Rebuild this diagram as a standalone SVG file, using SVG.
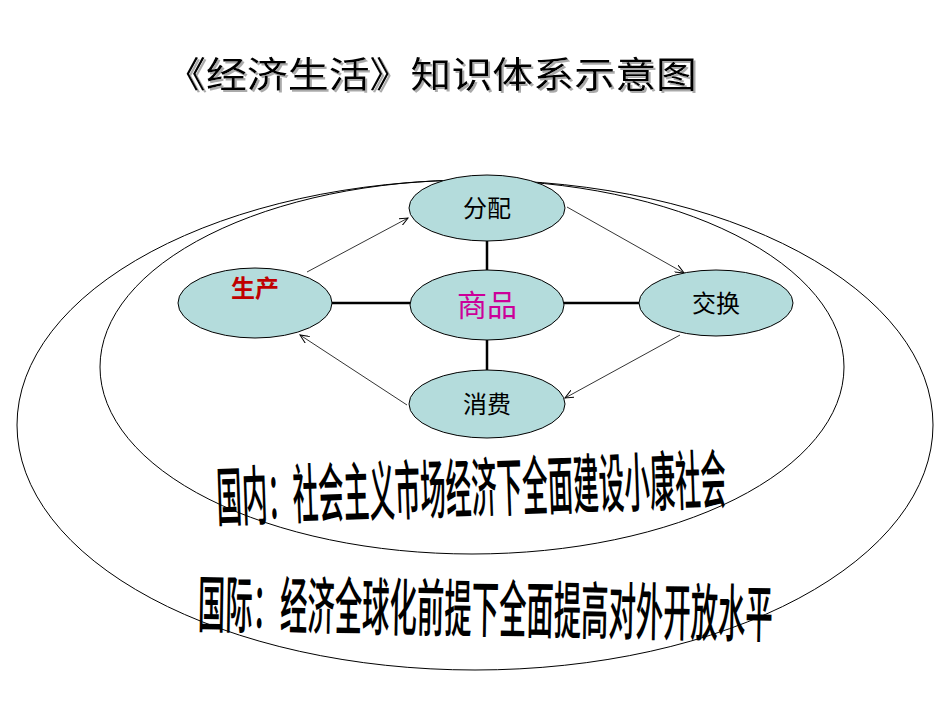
<svg xmlns="http://www.w3.org/2000/svg" width="950" height="713" viewBox="0 0 950 713">
<defs>
<style>
.n{fill:#b4dcdc;stroke:#000;stroke-width:1}
.t{font-family:"Liberation Sans","Noto Sans CJK SC",sans-serif;text-anchor:middle}
.w{font-family:"Noto Sans CJK SC",sans-serif;font-weight:500;fill:#000}
</style>
<filter id="sh" x="-5%" y="-20%" width="110%" height="140%"><feDropShadow dx="2" dy="2" stdDeviation="0" flood-color="#aaa"/></filter>
<marker id="a" markerWidth="10" markerHeight="8" refX="9" refY="4" orient="auto" markerUnits="userSpaceOnUse"><path d="M0,0 L9,4 L0,8" fill="none" stroke="#000"/></marker>
</defs>
<rect width="950" height="713" fill="#fff"/>
<text x="431" y="88" class="t" font-size="36" textLength="532" lengthAdjust="spacingAndGlyphs" filter="url(#sh)">《经济生活》知识体系示意图</text>
<ellipse cx="475" cy="425" rx="458" ry="245" fill="none" stroke="#000"/>
<ellipse cx="472" cy="367" rx="372" ry="187" fill="none" stroke="#000"/>
<g id="connectors" stroke="#000" fill="none">
<path d="M332,303H410M564,303H639M487,241V270M487,340V370" stroke-width="2.5"/>
<g stroke-width="0.8" marker-end="url(#a)">
<path d="M307,272L408,218"/><path d="M567,207L684,273"/><path d="M680,335L565,398"/><path d="M407,405L300,335"/>
</g></g>
<g id="fenpei"><ellipse class="n" cx="487" cy="208" rx="78" ry="33"/><text x="487" y="217" class="t" font-size="24">分配</text></g>
<g id="shengchan"><ellipse class="n" cx="255" cy="303" rx="77" ry="35"/><text x="255" y="297" class="t" font-size="24" font-weight="bold" fill="#c00000">生产</text></g>
<g id="shangpin"><ellipse class="n" cx="487" cy="305" rx="77" ry="35"/><text x="487" y="316" class="t" font-size="30" fill="#cc0099">商品</text></g>
<g id="jiaohuan"><ellipse class="n" cx="716" cy="303" rx="77" ry="33"/><text x="716" y="312" class="t" font-size="24">交换</text></g>
<g id="xiaofei"><ellipse class="n" cx="487" cy="404" rx="78" ry="34"/><text x="487" y="413" class="t" font-size="24">消费</text></g>
<g transform="translate(472,512) rotate(-2) scale(1,2.7)"><text class="w t" x="0" y="0" font-size="24" textLength="510" lengthAdjust="spacingAndGlyphs">国内：社会主义市场经济下全面建设小康社会</text></g>
<g transform="translate(485,632) rotate(1) scale(1,2.5)"><text class="w t" x="0" y="0" font-size="25" textLength="575" lengthAdjust="spacingAndGlyphs">国际：经济全球化前提下全面提高对外开放水平</text></g>
</svg>
